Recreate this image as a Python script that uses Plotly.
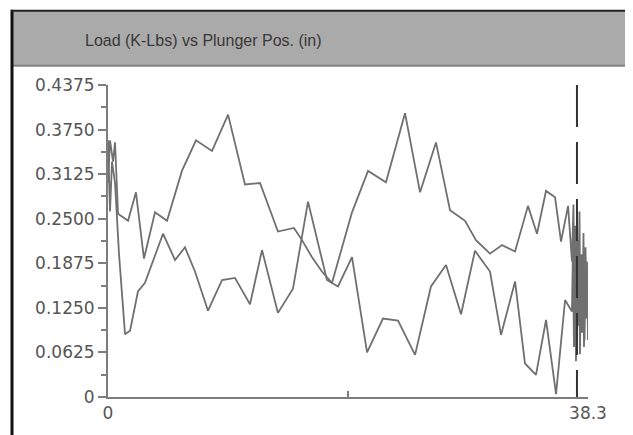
import plotly.graph_objects as go

# ---- data (inches, K-Lbs) ----
pos_a = [0.00, 0.16, 0.32, 0.56, 0.88, 1.36, 1.76, 2.39, 2.95, 4.39, 5.35, 6.14, 6.94, 7.98,
         9.10, 10.13, 11.33, 12.29, 13.56, 14.76, 15.96, 16.76, 17.47, 18.35, 19.47, 20.67,
         21.94, 23.14, 24.50, 25.77, 26.97, 28.17, 29.28, 30.48, 31.36, 32.48, 33.27, 34.15,
         34.95, 35.75, 36.47, 37.02,
         37.10, 37.18, 37.26, 37.34, 37.42, 37.50, 37.58, 37.66, 37.74, 37.82, 37.90, 37.98,
         38.06, 38.14, 38.22, 38.30]
load_a = [0.360, 0.260, 0.330, 0.300, 0.200, 0.088, 0.093, 0.148, 0.160, 0.229, 0.192, 0.210,
          0.176, 0.121, 0.164, 0.167, 0.130, 0.206, 0.118, 0.152, 0.274, 0.215, 0.164, 0.155,
          0.196, 0.0625, 0.110, 0.107, 0.059, 0.155, 0.185, 0.116, 0.205, 0.176, 0.087, 0.162,
          0.047, 0.031, 0.108, 0.004, 0.136, 0.120,
          0.21, 0.07, 0.19, 0.05, 0.17, 0.10, 0.21, 0.06, 0.18, 0.09, 0.20, 0.07,
          0.15, 0.11, 0.19, 0.08]

pos_b = [0.00, 0.16, 0.40, 0.56, 0.80, 1.60, 2.23, 2.87, 3.75, 4.71, 5.90, 7.02, 8.30, 9.58,
         10.93, 12.13, 13.56, 14.84, 15.48, 16.28, 17.07, 17.87, 19.47, 20.75, 22.18, 23.70,
         24.90, 26.17, 27.29, 28.49, 29.36, 30.48, 31.44, 32.48, 33.51, 34.23, 34.95, 35.67,
         36.15, 36.71, 37.02,
         37.14, 37.22, 37.30, 37.38, 37.46, 37.54, 37.62, 37.70, 37.78, 37.86, 37.94, 38.02,
         38.10, 38.18, 38.26]
load_b = [0.300, 0.360, 0.330, 0.357, 0.257, 0.247, 0.287, 0.194, 0.259, 0.247, 0.317, 0.360,
          0.345, 0.396, 0.298, 0.300, 0.232, 0.237, 0.220, 0.196, 0.176, 0.160, 0.259, 0.317,
          0.301, 0.398, 0.287, 0.357, 0.262, 0.247, 0.220, 0.201, 0.213, 0.204, 0.268, 0.229,
          0.289, 0.280, 0.218, 0.268, 0.190,
          0.27, 0.13, 0.24, 0.11, 0.22, 0.15, 0.26, 0.09, 0.20, 0.12, 0.23, 0.08,
          0.21, 0.13, 0.18]

marker_pos = 37.42
x_max = 38.3
y_max = 0.4375

y_ticks = [0, 0.0625, 0.125, 0.1875, 0.25, 0.3125, 0.375, 0.4375]
y_labels = ["0", "0.0625", "0.1250", "0.1875", "0.2500", "0.3125", "0.3750", "0.4375"]
y_minor = [0.03125, 0.09375, 0.15625, 0.21875, 0.28125, 0.34375, 0.40625]
x_ticks = [0, 19.15, 38.3]
x_labels = ["0", "", "38.3"]

title_text = "Load (K-Lbs) vs Plunger Pos. (in)"

line_col = "#707070"
axis_col = "#7d7d7d"

fig = go.Figure()
fig.add_trace(go.Scatter(x=pos_a, y=load_a, mode="lines",
                         line=dict(color=line_col, width=1.8), hoverinfo="skip"))
fig.add_trace(go.Scatter(x=pos_b, y=load_b, mode="lines",
                         line=dict(color=line_col, width=1.8), hoverinfo="skip"))

# page body adds an 8px offset; figure is sized to compensate
OFF = 8
W, H = 625, 427
L, R, T, B = 100, 45, 77, 35
pw, ph = W - L - R, H - T - B


def px(xs):
    return (xs - OFF - L) / pw


def py(ys):
    return (H - B - (ys - OFF)) / ph


shapes = [
    # title bar
    dict(type="rect", xref="paper", yref="paper", x0=px(12), x1=px(630), y0=py(65), y1=py(10),
         fillcolor="#aaaaaa", line=dict(width=0), layer="below"),
    dict(type="line", xref="paper", yref="paper", x0=px(12), x1=px(630), y0=py(65.5), y1=py(65.5),
         line=dict(color="#808080", width=2)),
    # frame borders
    dict(type="line", xref="paper", yref="paper", x0=px(12), x1=px(12), y0=py(9), y1=py(440),
         line=dict(color="#111111", width=3)),
    dict(type="line", xref="paper", yref="paper", x0=px(11), x1=px(631), y0=py(10), y1=py(10),
         line=dict(color="#222222", width=2)),
    dict(type="line", xref="paper", yref="paper", x0=px(629.5), x1=px(629.5), y0=py(10), y1=py(440),
         line=dict(color="#9a9a9a", width=2)),
    # dashed marker
    dict(type="line", xref="x", yref="y", x0=marker_pos, x1=marker_pos, y0=y_max, y1=0,
         line=dict(color="#333333", width=2, dash="42px,15px")),
]

fig.add_annotation(text=title_text, xref="paper", yref="paper", x=px(203), y=py(40),
                   showarrow=False, xanchor="center", yanchor="middle",
                   font=dict(family="Liberation Sans, Arial", size=16, color="#383838"))

tick_font = dict(family="DejaVu Sans", size=17, color="#555555")

fig.update_layout(
    width=W, height=H,
    margin=dict(l=L, r=R, t=T, b=B),
    paper_bgcolor="white", plot_bgcolor="white",
    showlegend=False,
    shapes=shapes,
    xaxis=dict(range=[0, x_max], showgrid=False, zeroline=False,
               showline=True, linecolor=axis_col, linewidth=2,
               tickvals=x_ticks, ticktext=x_labels, ticks="inside", ticklen=6,
               tickcolor=axis_col, tickwidth=2, tickfont=tick_font, fixedrange=True),
    yaxis=dict(range=[0, y_max], showgrid=False, zeroline=False,
               showline=True, linecolor=axis_col, linewidth=2,
               tickvals=y_ticks, ticktext=y_labels, ticks="outside", ticklen=8,
               tickcolor=axis_col, tickwidth=2, tickfont=tick_font,
               minor=dict(tickvals=y_minor, ticks="outside", ticklen=5,
                          tickcolor=axis_col, tickwidth=2),
               fixedrange=True),
)

fig.write_html("out.html")
